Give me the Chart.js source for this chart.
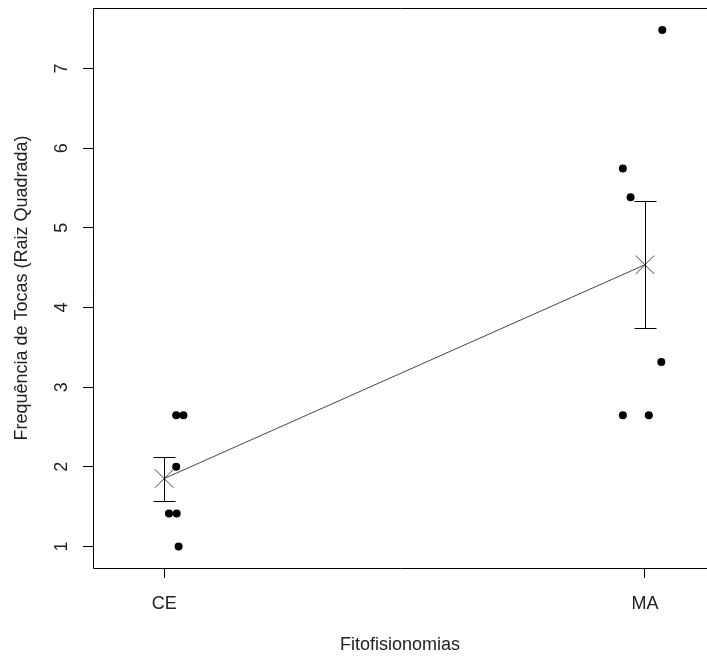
<!DOCTYPE html>
<html>
<head>
<meta charset="utf-8">
<script src="https://cdn.jsdelivr.net/npm/chart.js@4/dist/chart.umd.min.js"></script>
<style>
  body { margin: 0; background: #fff; }
</style>
</head>
<body>
<canvas id="grafico" width="707" height="660"></canvas>
<script>
// categorias e valores
const categorias = ['CE', 'MA'];
const ceX = [1.025, 1.040, 1.025, 1.010, 1.026, 1.030];
const ceY = [2.646, 2.646, 2.000, 1.414, 1.414, 1.000];
const maX = [1.954, 1.970, 2.036, 2.034, 1.954, 2.008];
const maY = [5.745, 5.385, 7.483, 3.317, 2.646, 2.646];
const mediaX = [1, 2];
const medias = [1.853, 4.537];
const limInf = [1.570, 3.742];
const limSup = [2.123, 5.343];
const yTicks = [1, 2, 3, 4, 5, 6, 7];

const corTexto = '#222';
const fonte = 'Liberation Sans, Arial, sans-serif';

const toPts = (xs, ys) => xs.map((x, i) => ({ x: x, y: ys[i] }));

// caixa, barras de erro e rótulos girados do eixo y
const extras = {
  id: 'extras',
  afterDatasetsDraw(chart) {
    const ctx = chart.ctx;
    const sx = chart.scales.x, sy = chart.scales.y;
    ctx.save();
    ctx.strokeStyle = '#000';
    ctx.lineWidth = 1;
    for (let i = 0; i < mediaX.length; i++) {
      const px = Math.round(sx.getPixelForValue(mediaX[i])) + 0.5;
      const p1 = Math.round(sy.getPixelForValue(limSup[i])) + 0.5;
      const p2 = Math.round(sy.getPixelForValue(limInf[i])) + 0.5;
      ctx.beginPath();
      ctx.moveTo(px, p1); ctx.lineTo(px, p2);
      ctx.moveTo(px - 11, p1); ctx.lineTo(px + 11, p1);
      ctx.moveTo(px - 11, p2); ctx.lineTo(px + 11, p2);
      ctx.stroke();
    }
    ctx.restore();
  },
  afterDraw(chart) {
    const ctx = chart.ctx;
    const a = chart.chartArea;
    const sy = chart.scales.y;
    ctx.save();
    ctx.strokeStyle = '#000';
    ctx.lineWidth = 1;
    ctx.beginPath();
    ctx.moveTo(a.right + 5, Math.round(a.top) + 0.5);
    ctx.lineTo(Math.round(a.left) + 0.5, Math.round(a.top) + 0.5);
    ctx.lineTo(Math.round(a.left) + 0.5, Math.round(a.bottom) + 0.5);
    ctx.lineTo(a.right + 5, Math.round(a.bottom) + 0.5);
    ctx.stroke();
    ctx.fillStyle = corTexto;
    ctx.font = '18px ' + fonte;
    ctx.textAlign = 'center';
    ctx.textBaseline = 'middle';
    yTicks.forEach(v => {
      ctx.save();
      ctx.translate(62, sy.getPixelForValue(v));
      ctx.rotate(-Math.PI / 2);
      ctx.fillText(String(v), 0, 0);
      ctx.restore();
    });
    ctx.restore();
  }
};

const config = {
  type: 'scatter',
  data: {
    datasets: [
      {
        label: 'CE',
        data: toPts(ceX, ceY),
        backgroundColor: '#000',
        borderColor: '#000',
        pointRadius: 4,
        pointBorderWidth: 0
      },
      {
        label: 'MA',
        data: toPts(maX, maY),
        backgroundColor: '#000',
        borderColor: '#000',
        pointRadius: 4,
        pointBorderWidth: 0
      },
      {
        label: 'Média',
        data: toPts(mediaX, medias),
        showLine: true,
        borderColor: '#444',
        borderWidth: 1,
        pointStyle: 'crossRot',
        pointRadius: 13,
        pointBorderColor: '#444',
        pointBorderWidth: 1
      }
    ]
  },
  options: {
    responsive: false,
    animation: false,
    layout: { autoPadding: false, padding: { top: 8, right: 0, bottom: 0, left: 0 } },
    plugins: {
      legend: { display: false },
      tooltip: { enabled: false }
    },
    scales: {
      x: {
        type: 'linear',
        min: 0.852,
        max: 2.129,
        afterBuildTicks: s => { s.ticks = [{ value: 1 }, { value: 2 }]; },
        afterFit: s => { s.height = 92; },
        border: { display: false },
        grid: { drawOnChartArea: false, drawTicks: true, tickLength: 10, color: '#000' },
        ticks: {
          callback: v => categorias[v - 1],
          font: { size: 18, family: fonte },
          color: corTexto,
          padding: 15,
          maxRotation: 0
        },
        title: {
          display: true,
          text: 'Fitofisionomias',
          font: { size: 18, family: fonte },
          color: corTexto,
          padding: { top: 0, bottom: 4 }
        }
      },
      y: {
        min: 0.73,
        max: 7.76,
        afterBuildTicks: s => { s.ticks = yTicks.map(v => ({ value: v })); },
        afterFit: s => { s.width = 93; },
        border: { display: false },
        grid: { drawOnChartArea: false, drawTicks: true, tickLength: 10, color: '#000' },
        ticks: { display: false },
        title: {
          display: true,
          text: 'Frequência de Tocas (Raiz Quadrada)',
          font: { size: 18, family: fonte },
          color: corTexto,
          padding: { top: 11, bottom: 0 }
        }
      }
    }
  },
  plugins: [extras]
};

var grafico = new Chart(document.getElementById('grafico'), config);
</script>
</body>
</html>
